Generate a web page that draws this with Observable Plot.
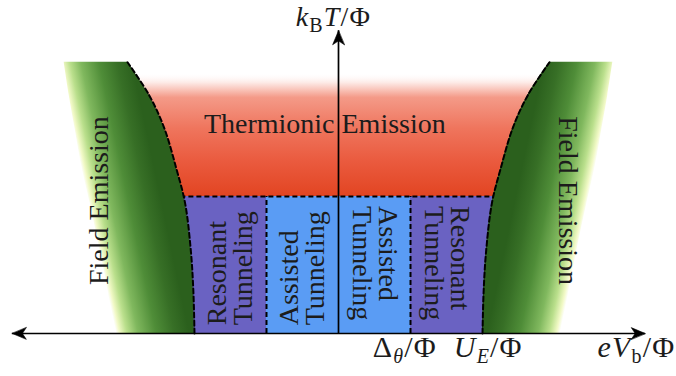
<!DOCTYPE html>
<html><head><meta charset="utf-8">
<script src="https://cdn.jsdelivr.net/npm/d3@7"></script>
<script src="https://cdn.jsdelivr.net/npm/@observablehq/plot@0.6"></script>
<style>html,body{margin:0;padding:0;background:#fff}#chart svg{display:block}</style>
</head><body><div id="chart"></div>
<script>
// ---- data (units: x in eV_b/Φ with Δθ/Φ = 1, U_E/Φ = 2; y in k_B T/Φ with boundary = 1)
const bandY      = [0, 0.3, 0.6, 0.95, 1.2, 1.5, 1.74, 1.98];       // heights along the field-emission boundary
const boundaryX  = [2.0, 2.015, 2.05, 2.13, 2.25, 2.42, 2.63, 2.93]; // dashed boundary (right side, mirrored left)
const fadeEdgeX  = [3.15, 3.2, 3.31, 3.45, 3.56, 3.66, 3.74, 3.81];  // outer fading edge of the green band
const cellX1     = [-2.3, -1, 0, 1];
const cellX2     = [-1, 0, 1, 2.3];
const cellKind   = ["resonant", "assisted", "assisted", "resonant"];
const cellCenter = [-1.5, -0.5, 0.5, 1.5];
const cellText   = ["Resonant\nTunneling", "Assisted\nTunneling", "Assisted\nTunneling", "Resonant\nTunneling"];
const cellRotate = [-90, -90, 90, 90];
const cellStartY = [0.06, 0.06, 0.93, 0.93];
const tunnelTop  = 1;      // thermionic / tunneling boundary
const thermTop   = 1.9;    // top of thermionic band (fades out)
const tickValues = [0.92, 2.08];
const tickLabels = ["Δθ/Φ", "UE/Φ"];
const xAxisLabel = "eVb/Φ", xAxisLabelPos = 4.68;
const yAxisLabel = "kBT/Φ", yAxisLabelPos = 2.248;
const axisLeft = -4.53, axisRight = 4.26, axisTop = 2.21;

const W = 676, H = 376;
const xDomain = [-4.694, 4.694], yDomain = [-0.314, 2.431];
const serif = "'Liberation Serif', 'DejaVu Serif', serif";
const ink = "#1c1c1c";

const rightBand = bandY.map((y, i) => ({y, b: boundaryX[i], f: fadeEdgeX[i]}));
const leftBand  = bandY.map((y, i) => ({y, b: -boundaryX[i], f: -fadeEdgeX[i]}));
const cells = cellX1.map((x1, i) => ({x1, x2: cellX2[i], kind: cellKind[i]}));
const cellLabels = cellCenter.map((x, i) => ({x, y: cellStartY[i], t: cellText[i], r: cellRotate[i]}));

const stealth = {
  draw(ctx, l) {
    ctx.moveTo(0, -l);
    ctx.lineTo(-0.42 * l, 0);
    ctx.lineTo(0, -0.28 * l);
    ctx.lineTo(0.42 * l, 0);
    ctx.closePath();
  }
};
const heads = [
  {x: axisLeft, y: 0, r: -90},
  {x: axisRight, y: 0, r: 90},
  {x: 0, y: axisTop, r: 0}
];
const dash = {stroke: "black", strokeWidth: 2, strokeDasharray: "5,3"};

const plot = Plot.plot({
  width: W, height: H,
  margin: 0,
  x: {domain: xDomain, range: [0, W], axis: null},
  y: {domain: yDomain, range: [H, 0], axis: null},
  style: {background: "white"},
  marks: [
    Plot.rect([{}], {x1: -3, x2: 3, y1: tunnelTop, y2: thermTop, fill: "url(#redGrad)"}),
    Plot.rect(cells, {x1: "x1", x2: "x2", y1: 0, y2: tunnelTop,
      fill: d => d.kind === "resonant" ? "#6a62c2" : "#5a9cf4"}),
    Plot.ruleY([tunnelTop], {x1: -2.3, x2: 2.3, ...dash}),
    Plot.ruleX([-1, 1], {y1: 0, y2: tunnelTop, ...dash}),
    Plot.areaX(leftBand, {y: "y", x1: "f", x2: "b", fill: "url(#greenL)", curve: "catmull-rom"}),
    Plot.areaX(rightBand, {y: "y", x1: "f", x2: "b", fill: "url(#greenR)", curve: "catmull-rom"}),
    Plot.line(leftBand, {x: "b", y: "y", curve: "catmull-rom", ...dash}),
    Plot.line(rightBand, {x: "b", y: "y", curve: "catmull-rom", ...dash}),
    Plot.ruleY([0], {x1: axisLeft, x2: axisRight, stroke: "black", strokeWidth: 1.7}),
    Plot.ruleX([0], {y1: 0, y2: axisTop, stroke: "black", strokeWidth: 1.7}),
    Plot.vector(heads, {x: "x", y: "y", rotate: "r", length: 14, anchor: "end", shape: stealth,
      fill: "black", stroke: "black", strokeWidth: 0.6}),
    Plot.text([{}], {x: -0.19, y: 1.467, text: () => "Thermionic Emission", lineAnchor: "bottom",
      fontSize: 28, fontFamily: serif, fill: ink}),
    Plot.text([{}], {x: -3.33, y: 0.97, text: () => "Field Emission", rotate: -90,
      fontSize: 28, fontFamily: serif, fill: ink}),
    Plot.text([{}], {x: 3.18, y: 0.97, text: () => "Field Emission", rotate: 90,
      fontSize: 28, fontFamily: serif, fill: ink}),
    Plot.text(cellLabels, {x: "x", y: "y", text: "t", rotate: "r", textAnchor: "start", lineAnchor: "middle",
      lineHeight: 0.95, fontSize: 28, fontFamily: serif, fill: ink}),
    Plot.text(tickValues, {x: d => d, y: -0.175, text: (d, i) => tickLabels[i], lineAnchor: "bottom",
      fontSize: 30, fontFamily: serif, fill: ink}),
    Plot.text([xAxisLabelPos], {x: d => d, y: -0.175, text: () => xAxisLabel, lineAnchor: "bottom",
      textAnchor: "end", fontSize: 30, fontFamily: serif, fill: ink}),
    Plot.text([yAxisLabelPos], {x: -0.07, y: d => d, text: () => yAxisLabel, lineAnchor: "bottom",
      fontSize: 28, fontFamily: serif, fill: ink})
  ]
});

// ---- gradients (computed from the scales)
const sx = plot.scale("x").apply, sy = plot.scale("y").apply;
const svg = d3.select(plot);
const defs = svg.insert("defs", ":first-child");
const red = defs.append("linearGradient").attr("id", "redGrad").attr("x1", 0).attr("y1", 0).attr("x2", 0).attr("y2", 1);
[[0, "#ffffff", 0], [0.08, "#fdeae6", 1], [0.2, "#f49a88", 1], [0.45, "#ef755d", 1], [0.72, "#ea5a3e", 1], [1, "#e24522", 1]]
  .forEach(([o, c, a]) => red.append("stop").attr("offset", o).attr("stop-color", c).attr("stop-opacity", a));

const greenStops = [[0, "#ffffff"], [0.05, "#f1f9c6"], [0.15, "#badf8c"], [0.3, "#80b85e"], [0.55, "#4f8d38"], [0.8, "#376f26"], [1, "#2b601d"]];
function band(id, data) {
  const n = data.length - 1;
  const fT = [sx(data[n].f), sy(data[n].y)], fB = [sx(data[0].f), sy(data[0].y)];
  const cT = [sx(data[n].b), sy(data[n].y)], cB = [sx(data[0].b), sy(data[0].y)];
  const dx = ((fB[0] - fT[0]) + (cB[0] - cT[0])) / 2, dy = ((fB[1] - fT[1]) + (cB[1] - cT[1])) / 2;
  const len = Math.hypot(dx, dy);
  let px = dy / len, py = -dx / len;
  if (px * (cT[0] - fT[0]) + py * (cT[1] - fT[1]) < 0) { px = -px; py = -py; }
  const fm = [(fT[0] + fB[0]) / 2, (fT[1] + fB[1]) / 2], cm = [(cT[0] + cB[0]) / 2, (cT[1] + cB[1]) / 2];
  const d = (cm[0] - fm[0]) * px + (cm[1] - fm[1]) * py;
  const g = defs.append("linearGradient").attr("id", id).attr("gradientUnits", "userSpaceOnUse")
    .attr("x1", fm[0]).attr("y1", fm[1]).attr("x2", fm[0] + px * d).attr("y2", fm[1] + py * d);
  greenStops.forEach(([o, c]) => g.append("stop").attr("offset", o).attr("stop-color", c));
}
band("greenL", leftBand);
band("greenR", rightBand);

// ---- rich math labels
const rich = {
  "kBT/Φ": [["k", "i"], ["B", "s"], ["T", "i"], ["/Φ", ""]],
  "Δθ/Φ": [["Δ", ""], ["θ", "si"], ["/Φ", ""]],
  "UE/Φ": [["U", "i"], ["E", "si"], ["/Φ", ""]],
  "eVb/Φ": [["eV", "i"], ["b", "s"], ["/Φ", ""]]
};
svg.selectAll("text").each(function () {
  const key = this.textContent;
  if (!rich[key]) return;
  const t = d3.select(this).attr("letter-spacing", 1.2);
  t.text(null);
  let shifted = false;
  rich[key].forEach(([s, st]) => {
    const sp = t.append("tspan").text(s);
    if (st.includes("i")) sp.attr("font-style", "italic");
    if (st.includes("s")) { sp.attr("font-size", 20).attr("dy", 6); shifted = true; }
    else if (shifted) { sp.attr("dy", -6); shifted = false; }
  });
});

document.getElementById("chart").appendChild(plot);
</script></body></html>
